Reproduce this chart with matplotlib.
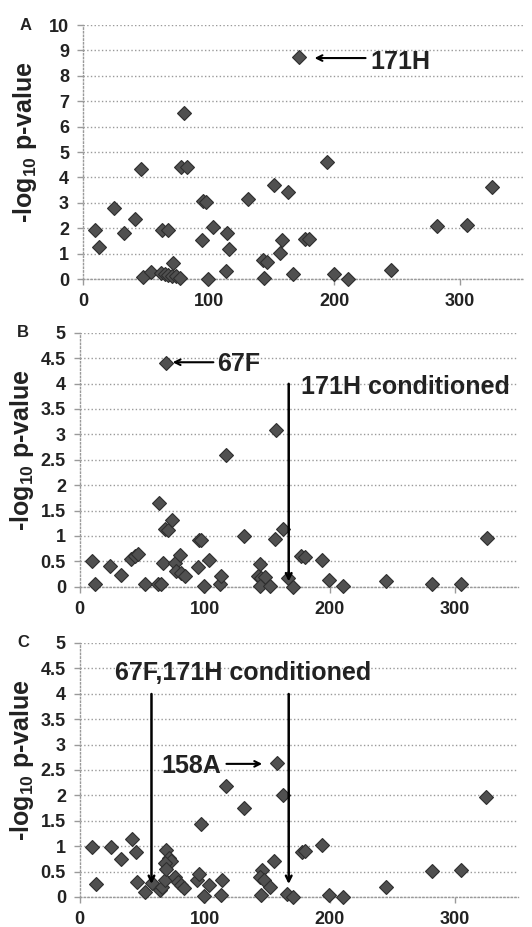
import matplotlib
matplotlib.use("Agg")
import matplotlib.pyplot as plt

plt.rcParams['font.family'] = ['Liberation Sans', 'DejaVu Sans']
plt.rcParams['font.weight'] = 'bold'
plt.rcParams['mathtext.fontset'] = 'custom'
plt.rcParams['mathtext.rm'] = 'Liberation Sans:bold'
plt.rcParams['mathtext.bf'] = 'Liberation Sans:bold'
plt.rcParams['mathtext.default'] = 'bf'

# Panel A: unconditioned
pos_a = [9.8, 12.7, 25, 33, 41.5, 46, 47.5, 54, 62.6, 67.4, 62, 65, 68, 71, 74, 77,
         72, 78, 83, 80.6, 94.6, 95.7, 97.5, 99.7, 103.6, 113.7, 114.5, 116.3, 131,
         144, 143.5, 146.7, 152, 156.8, 158, 163.4, 167, 171.8, 177, 179.7, 194,
         199.6, 211, 245, 282, 305.6, 325]
logp_a = [1.94, 1.28, 2.79, 1.81, 2.37, 4.32, 0.08, 0.28, 1.94, 1.94, 0.24, 0.20, 0.16,
          0.12, 0.10, 0.06, 0.65, 4.43, 4.43, 6.53, 1.52, 3.08, 3.05, 0.0, 2.03, 0.31,
          1.81, 1.19, 3.15, 0.04, 0.73, 0.69, 3.71, 1.02, 1.52, 3.42, 0.21, 8.75, 1.59,
          1.56, 4.59, 0.21, 0.0, 0.37, 2.07, 2.11, 3.64]

# Panel B: 171H conditioned
pos_b = [9.6, 12.5, 24.3, 33, 41, 43.8, 46.4, 51.8, 62.4, 65, 63.3, 66.5, 67.8, 70.5,
         69, 74, 75.8, 77, 80.3, 81, 83.8, 94.5, 95.3, 97, 99.3, 103, 111.8, 113,
         116.6, 131, 144.4, 142.5, 145, 148, 143.8, 152.4, 155.9, 157.2, 162.5, 166.5,
         170.5, 177, 180, 193.8, 199, 210.6, 244.5, 281.8, 304.5, 325.3]
logp_b = [0.51, 0.05, 0.41, 0.24, 0.54, 0.60, 0.64, 0.05, 0.05, 0.05, 1.65, 0.47, 1.13,
          1.12, 4.41, 1.31, 0.47, 0.31, 0.62, 0.28, 0.22, 0.39, 0.93, 0.92, 0.01, 0.52,
          0.05, 0.22, 2.59, 1.0, 0.44, 0.21, 0.18, 0.19, 0.01, 0.01, 0.95, 3.08, 1.13,
          0.18, 0.0, 0.60, 0.59, 0.52, 0.14, 0.01, 0.11, 0.06, 0.05, 0.96]

# Panel C: 67F,171H conditioned
pos_c = [10, 13.3, 25.3, 33.3, 41.9, 45.3, 46, 52, 58, 64, 65.5, 68, 69.3, 71, 73.3,
         68, 69.3, 76, 78.7, 81, 83, 94, 95.2, 96.5, 99, 103, 112.8, 113.9, 116.5, 131,
         144.8, 145.3, 144, 147.5, 152, 155, 157.3, 162.7, 165.6, 170.7, 177.3, 180,
         193.3, 199.2, 210.7, 244.5, 281.9, 304.8, 324.8]
logp_c = [0.99, 0.25, 0.99, 0.74, 1.15, 0.89, 0.30, 0.09, 0.28, 0.13, 0.20, 0.33, 0.92,
          0.76, 0.71, 0.66, 0.56, 0.39, 0.30, 0.23, 0.18, 0.33, 0.46, 1.43, 0.02, 0.23,
          0.03, 0.34, 2.19, 1.76, 0.03, 0.54, 0.39, 0.34, 0.20, 0.70, 2.63, 2.0, 0.05,
          0.0, 0.89, 0.91, 1.03, 0.03, 0.0, 0.2, 0.51, 0.53, 1.96]

TXT = '#222222'
GRID = '#9a9a9a'


def style_axes(ax, ymax, ystep, letter):
    ax.set_xlim(0, 350)
    ax.set_ylim(0, ymax)
    yt = [i * ystep for i in range(int(round(ymax / ystep)) + 1)]
    ax.set_yticks(yt)
    ax.set_yticklabels([f"{v:g}" for v in yt])
    ax.set_xticks([0, 100, 200, 300])
    ax.grid(axis='y', color=GRID, linestyle=':', linewidth=1.0)
    ax.set_axisbelow(True)
    for s in ['top', 'right']:
        ax.spines[s].set_visible(False)
    for s in ['left', 'bottom']:
        ax.spines[s].set_color(GRID)
        ax.spines[s].set_linestyle(':')
        ax.spines[s].set_linewidth(1.0)
    ax.tick_params(axis='both', colors=GRID, labelcolor=TXT, labelsize=13,
                   length=4, width=1, pad=6)
    ax.set_ylabel(r"-log$_{10}$ p-value", fontsize=18, color=TXT, fontweight='bold')
    ax.yaxis.set_label_coords(-0.10, 0.54)
    ax.text(-0.13, 1.0, letter, transform=ax.transAxes, fontsize=12,
            color=TXT, ha='center', va='center')


def scatter(ax, x, y):
    ax.plot(x, y, linestyle='none', marker='D', markersize=7.5,
            markerfacecolor='#505050', markeredgecolor='#2e2e2e',
            markeredgewidth=0.8, clip_on=False, zorder=3)


fig = plt.figure(figsize=(5.32, 9.27), dpi=100)
ax_a = fig.add_axes([0.156, 0.699, 0.827, 0.274])
ax_b = fig.add_axes([0.150, 0.367, 0.823, 0.274])
ax_c = fig.add_axes([0.150, 0.0324, 0.823, 0.274])

# A
style_axes(ax_a, 10, 1, 'A')
scatter(ax_a, pos_a, logp_a)
ax_a.annotate('', xy=(182, 8.7), xytext=(227, 8.7),
              arrowprops=dict(arrowstyle='->', color='black', lw=1.5))
ax_a.text(229, 8.55, '171H', fontsize=18, color=TXT, va='center', ha='left')

# B
style_axes(ax_b, 5, 0.5, 'B')
scatter(ax_b, pos_b, logp_b)
ax_b.annotate('', xy=(72, 4.42), xytext=(109, 4.42),
              arrowprops=dict(arrowstyle='->', color='black', lw=1.5))
ax_b.text(110, 4.38, '67F', fontsize=18, color=TXT, va='center', ha='left')
ax_b.annotate('', xy=(167, 0.05), xytext=(167, 4.05),
              arrowprops=dict(arrowstyle='->', color='black', lw=1.8))
ax_b.text(177, 3.93, '171H conditioned', fontsize=18, color=TXT, va='center', ha='left')

# C
style_axes(ax_c, 5, 0.5, 'C')
scatter(ax_c, pos_c, logp_c)
ax_c.text(28, 4.4, '67F,171H conditioned', fontsize=18, color=TXT, va='center', ha='left')
ax_c.annotate('', xy=(57.3, 0.2), xytext=(57.3, 4.05),
              arrowprops=dict(arrowstyle='->', color='black', lw=1.8))
ax_c.annotate('', xy=(167, 0.2), xytext=(167, 4.05),
              arrowprops=dict(arrowstyle='->', color='black', lw=1.8))
ax_c.annotate('', xy=(148, 2.62), xytext=(115, 2.62),
              arrowprops=dict(arrowstyle='->', color='black', lw=1.5))
ax_c.text(65, 2.58, '158A', fontsize=18, color=TXT, va='center', ha='left')

fig.savefig('out.png', dpi=100)
